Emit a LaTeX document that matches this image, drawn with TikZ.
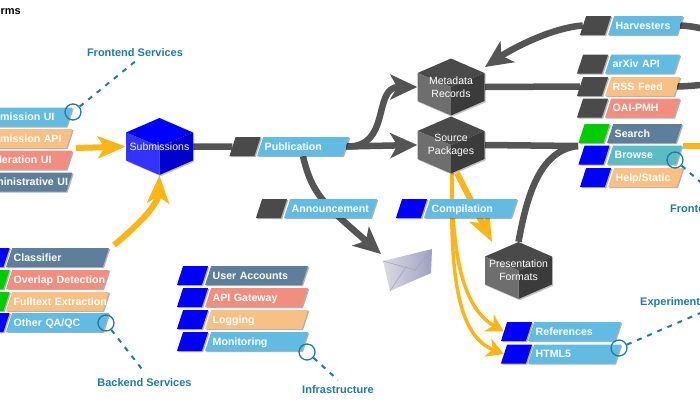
\documentclass[tikz,border=0pt]{standalone}
\usepackage{fontspec}
\setmainfont{Liberation Sans}
\usetikzlibrary{arrows.meta,shapes.geometric,shadows,backgrounds}

\definecolor{tagblue}{HTML}{62BBE2}
\definecolor{tagorange}{HTML}{F8C084}
\definecolor{tagsalmon}{HTML}{F28E80}
\definecolor{tagslate}{HTML}{5E7F9C}
\definecolor{tagteal}{HTML}{5BBCC6}
\definecolor{icongrey}{HTML}{4A4A4A}
\definecolor{iconblue}{HTML}{0000FF}
\definecolor{icongreen}{HTML}{00CC00}
\definecolor{linegrey}{HTML}{555555}
\definecolor{linegold}{HTML}{FDB515}
\definecolor{noteblue}{HTML}{1F7AA5}

\tikzset{
    softshadow/.style={drop shadow={shadow xshift=1.2pt, shadow yshift=-1.2pt, fill=black, opacity=0.3}},
    tagicon/.style={trapezium, trapezium left angle=72, trapezium right angle=108,
        inner sep=0pt, text width=18.8pt, text height=19pt, text depth=0pt, fill=#1, softshadow},
    taglabel/.style 2 args={trapezium, trapezium left angle=72, trapezium right angle=108,
        inner xsep=1.5pt, inner ysep=4.25pt, text width=#1-15.4pt, text height=9pt, text depth=1.5pt, fill=#2, softshadow,
        text=white, font=\bfseries\fontsize{10.6}{11}\selectfont, align=left},
    cubetext/.style={minimum width=67pt, minimum height=57pt, inner sep=0pt, align=center, text=white,
        font=\fontsize{10.5}{13}\selectfont},
    greyline/.style={draw=linegrey, line width=6.5pt},
    greyarrow/.style={greyline, -{Stealth[length=27pt, width=25pt, inset=7pt]}},
    goldarrow/.style={draw=linegold, line width=6pt, -{Stealth[length=28pt, width=22pt, inset=7pt]}},
    goldthin/.style={draw=linegold, line width=3.5pt, -{Stealth[length=17pt, width=19pt, inset=5pt]}},
    notering/.style={circle, draw=noteblue, line width=1.3pt, minimum size=16pt, inner sep=0pt},
    noteline/.style={draw=noteblue, line width=2pt, dash pattern=on 5pt off 6pt},
    notetext/.style={text=noteblue, font=\bfseries\fontsize{11}{11}\selectfont, inner sep=0pt},
}

% One cube: name, x, y, label, then top, left and right face colours
\newcommand{\cubenode}[7]{
    \fill[white, drop shadow={shadow xshift=1.2pt, shadow yshift=-1.2pt, fill=black, opacity=0.25}]
        (#2,#3-28.5) -- (#2+33.5,#3-14) -- (#2+33.5,#3+14) -- (#2,#3+28.5) -- (#2-33.5,#3+14) -- (#2-33.5,#3-14) -- cycle;
    \fill[#5] (#2,#3-28.5) -- (#2+33.5,#3-14) -- (#2,#3) -- (#2-33.5,#3-14) -- cycle;
    \fill[#6] (#2,#3) -- (#2,#3+28.5) -- (#2-33.5,#3+14) -- (#2-33.5,#3-14) -- cycle;
    \fill[#7] (#2,#3) -- (#2+33.5,#3-14) -- (#2+33.5,#3+14) -- (#2,#3+28.5) -- cycle;
    \node[cubetext] (#1) at (#2,#3) {#4};
}

\begin{document}
\begin{tikzpicture}[x=1pt, y=-1pt]
    \useasboundingbox (0,0) rectangle (700,400);

    % Title, cut by the page edge
    \node[anchor=east, inner sep=0pt, font=\bfseries\fontsize{11}{11}\selectfont] (title) at (21,11) {Platforms};

    % Cubes
    \cubenode{submissions}{159.5}{146.5}{Submissions}{blue}{iconblue!80!white}{iconblue!80!black}
    \cubenode{metadata}{451}{87}{Metadata\\Records}{icongrey}{icongrey!80!white}{icongrey!80!black}
    \cubenode{source}{451}{145}{Source\\Packages}{icongrey}{icongrey!80!white}{icongrey!80!black}
    \cubenode{presentation}{518.5}{270.5}{Presentation\\Formats}{icongrey}{icongrey!80!white}{icongrey!80!black}

    % Frontend tags, left
    \node[taglabel={100pt}{tagblue}] (submission_ui) at (22.5,117) {Submission UI};
    \node[taglabel={100pt}{tagorange}] (submission_api) at (22.5,138.5) {Submission API};
    \node[taglabel={100pt}{tagsalmon}] (moderation_ui) at (22.5,160) {Moderation UI};
    \node[taglabel={100pt}{tagslate}] (admin_ui) at (22.5,182) {\mbox{Administrative UI}};

    % Backend tags
    \node[tagicon=iconblue] (classifier_icon) at (-6,257.5) {};
    \node[taglabel={103pt}{tagslate}] (classifier) at (57.5,257.5) {Classifier};
    \node[tagicon=icongreen] (overlap_icon) at (-6,279.5) {};
    \node[taglabel={103pt}{tagsalmon}] (overlap) at (57.5,279.5) {\mbox{Overlap Detection}};
    \node[tagicon=icongreen] (fulltext_icon) at (-6,301.5) {};
    \node[taglabel={103pt}{tagorange}] (fulltext) at (57.5,301.5) {\mbox{Fulltext Extraction}};
    \node[tagicon=iconblue] (other_icon) at (-6,322.5) {};
    \node[taglabel={103pt}{tagblue}] (other) at (57.5,322.5) {Other QA/QC};

    % Infrastructure tags
    \node[tagicon=iconblue] (accounts_icon) at (192.5,275.5) {};
    \node[taglabel={103pt}{tagslate}] (accounts) at (256.5,275.5) {User Accounts};
    \node[tagicon=iconblue] (gateway_icon) at (192.5,297.5) {};
    \node[taglabel={103pt}{tagsalmon}] (gateway) at (256.5,297.5) {API Gateway};
    \node[tagicon=iconblue] (logging_icon) at (192.5,319.5) {};
    \node[taglabel={103pt}{tagorange}] (logging) at (256.5,319.5) {Logging};
    \node[tagicon=iconblue] (monitoring_icon) at (192.5,341.5) {};
    \node[taglabel={103pt}{tagblue}] (monitoring) at (256.5,341.5) {Monitoring};

    % Publication, announcement and compilation tags
    \node[tagicon=icongrey] (publication_icon) at (245,146.5) {};
    \node[taglabel={92pt}{tagblue}] (publication) at (303,146.5) {Publication};
    \node[tagicon=icongrey] (announcement_icon) at (271.5,208.5) {};
    \node[taglabel={93pt}{tagblue}] (announcement) at (330.5,208.5) {\mbox{Announcement}};
    \node[tagicon=iconblue] (compilation_icon) at (411.5,208.5) {};
    \node[taglabel={93pt}{tagblue}] (compilation) at (470.5,208.5) {Compilation};

    % Tags on the right
    \node[tagicon=icongrey] (harvesters_icon) at (595.5,25.5) {};
    \node[taglabel={75pt}{tagblue}] (harvesters) at (645.5,25.5) {Harvesters};
    \node[tagicon=icongrey] (arxiv_icon) at (592.5,64) {};
    \node[taglabel={75pt}{tagblue}] (arxiv) at (642.5,64) {arXiv API};
    \node[tagicon=icongrey] (rss_icon) at (592.5,86.5) {};
    \node[taglabel={75pt}{tagorange}] (rss) at (642.5,86.5) {RSS Feed};
    \node[tagicon=icongrey] (oai_icon) at (592.5,108) {};
    \node[taglabel={75pt}{tagsalmon}] (oai) at (642.5,108) {OAI-PMH};
    \node[tagicon=icongreen] (search_icon) at (594,133.5) {};
    \node[taglabel={75pt}{tagslate}] (search) at (644.5,133.5) {Search};
    \node[tagicon=iconblue] (browse_icon) at (594,155) {};
    \node[taglabel={75pt}{tagteal}] (browse) at (644.5,155) {Browse};
    \node[tagicon=iconblue] (help_icon) at (595.5,177.5) {};
    \node[taglabel={75pt}{tagorange}] (help) at (645.5,177.5) {Help/Static};

    % Output tags
    \node[tagicon=iconblue] (references_icon) at (516.5,331.5) {};
    \node[taglabel={93pt}{tagblue}] (references) at (574.5,331.5) {References};
    \node[tagicon=iconblue] (html_icon) at (516.5,354) {};
    \node[taglabel={93pt}{tagblue}] (html) at (574.5,354) {HTML5};

    % Envelope
    \shade[left color=blue!10!gray!25!white, right color=blue!25!gray!60!white]
        (383,261) -- (432,249) -- (431,273) -- (390,291) -- cycle;
    \draw[white!75!blue!50!gray, line width=0.5pt] (383,261) -- (415,270) -- (432,249);
    \draw[white!75!blue!50!gray, line width=0.5pt] (390,291) -- (406,267);
    \coordinate (mail) at (381,254);

    % Free ends of the connectors
    \coordinate (harvesters_out) at (725,36);
    \coordinate (rss_out) at (725,82);
    \coordinate (browse_stub) at (683,146);
    \coordinate (browse_out) at (725,146);
    \coordinate (frontend_in) at (578,146);
    \coordinate (presentation_in) at (492,242);
    \coordinate (backend_out) at (114,245);

    % Notes
    \node[notering] (ring_frontend) at (73,112) {};
    \node[notetext] (note_frontend) at (135,53) {Frontend Services};
    \node[notering] (ring_backend) at (106,323) {};
    \node[notetext] (note_backend) at (144.5,383) {Backend Services};
    \node[notering] (ring_infrastructure) at (307,352) {};
    \node[notetext] (note_infrastructure) at (338,390) {Infrastructure};
    \node[notering] (ring_browse) at (675,160) {};
    \node[notetext, anchor=west] (note_browse) at (670,209) {Frontend Services};
    \node[notering] (ring_html) at (619,348) {};
    \node[notetext, anchor=west] (note_html) at (640,303) {Experimental};

    % Connectors go under the nodes
    \begin{scope}[on background layer]
        \draw[goldarrow] (76,148) -- (submissions.west);
        \draw[goldarrow] (backend_out) .. controls (135,228) and (158,205) .. (submissions.south);
        \draw[greyline] (submissions.east) -- (publication_icon.west);
        \draw[greyarrow] (publication.east) .. controls (392,148) and (372,87) .. (metadata.west);
        \draw[greyarrow] (publication.east) -- (source.west);
        \draw[greyarrow] (publication.south) .. controls (312,195) and (325,205) .. (mail);
        \draw[greyarrow] (harvesters_icon.west) .. controls (550,28) and (510,50) .. (485,67);
        \draw[greyline] (harvesters.east) .. controls (695,26) and (710,30) .. (harvesters_out);
        \draw[greyline] (metadata.east) -- (rss_icon.west);
        \draw[greyline] (rss.east) .. controls (695,86) and (710,84) .. (rss_out);
        \draw[greyline] (source.east) -- (frontend_in);
        \draw[greyline] (presentation.north) .. controls (527,195) and (540,150) .. (frontend_in);
        \draw[goldarrow] (457,173) -- (presentation_in);
        \draw[goldthin] (452,173) .. controls (452,240) and (458,305) .. (references_icon.west);
        \draw[goldthin] (452,173) .. controls (450,270) and (456,335) .. (html_icon.west);
        \draw[draw=linegold, line width=6pt] (browse_stub) -- (browse_out);
    \end{scope}

    % Dashed lines of the notes
    \draw[noteline] (ring_frontend) -- (137,60);
    \draw[noteline] (ring_backend) -- (145,373);
    \draw[noteline] (ring_infrastructure) -- (338,380);
    \draw[noteline] (ring_browse) -- (705,186);
    \draw[noteline] (ring_html) -- (705,311);

\end{tikzpicture}
\end{document}
